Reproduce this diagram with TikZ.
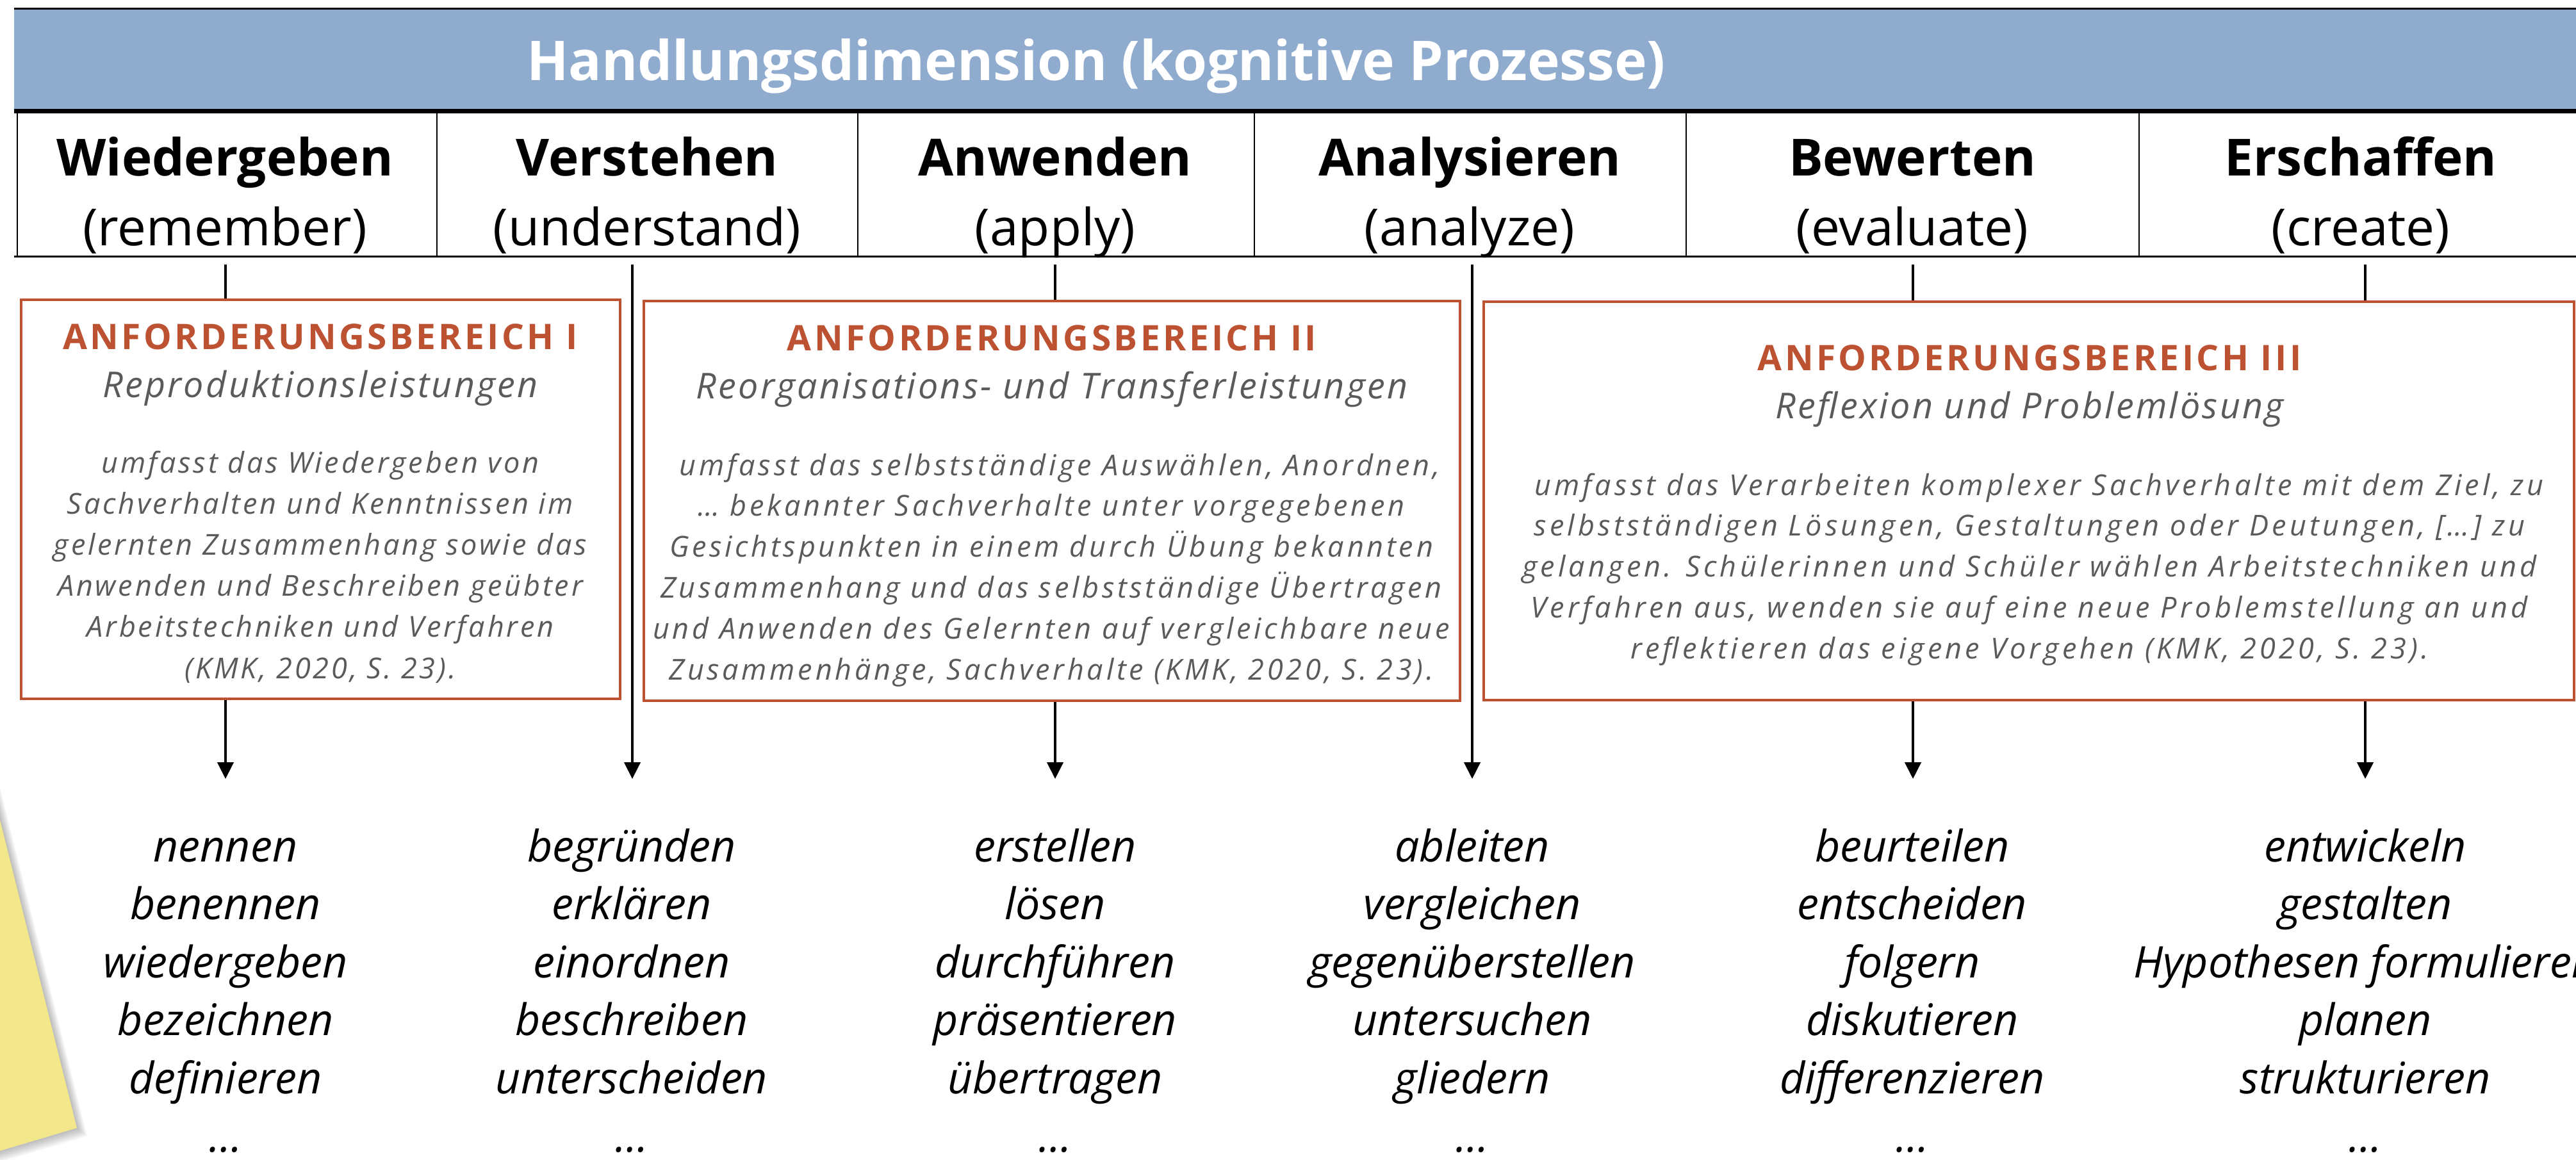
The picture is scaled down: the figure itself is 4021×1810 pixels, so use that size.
\documentclass[tikz,border=0pt]{standalone}
\usepackage{fontspec}
\setmainfont{Open Sans}
\newfontfamily\titlespaced[LetterSpace=8]{Open Sans}
\newfontfamily\subspaced[LetterSpace=6]{Open Sans}
\newfontfamily\bodyspacedA[LetterSpace=8.5]{Open Sans}
\newfontfamily\bodyspacedB[LetterSpace=10.5]{Open Sans}
\newfontfamily\bodyspacedC[LetterSpace=11.5]{Open Sans}
\usetikzlibrary{arrows.meta}
\definecolor{hblue}{RGB}{143,172,207}
\definecolor{aborange}{RGB}{189,82,50}
\definecolor{abgray}{RGB}{90,90,90}
\definecolor{notey}{RGB}{243,231,139}
\begin{document}
\begin{tikzpicture}[x=0.25pt,y=-0.25pt,
  headname/.style={anchor=base,inner sep=0pt,font=\fontsize{20}{24}\selectfont\bfseries},
  headgloss/.style={anchor=base,inner sep=0pt,font=\fontsize{20}{24}\selectfont},
  abtitle/.style={anchor=base,inner sep=0pt,text=aborange,font=\titlespaced\bfseries\fontsize{13.75}{16}\selectfont},
  absub/.style={anchor=base,inner sep=0pt,text=abgray,font=\subspaced\itshape\fontsize{13.9}{16}\selectfont},
  abbody/.style={anchor=base,inner sep=0pt,text=abgray},
  bodyA/.style={abbody,font=\bodyspacedA\itshape\fontsize{11.25}{14}\selectfont},
  bodyB/.style={abbody,font=\bodyspacedB\itshape\fontsize{11.25}{14}\selectfont},
  bodyC/.style={abbody,font=\bodyspacedC\itshape\fontsize{11.25}{14}\selectfont},
  verb/.style={anchor=base,inner sep=0pt,font=\itshape\fontsize{17}{20}\selectfont},
  abox/.style={draw=aborange,line width=0.9pt,fill=white,inner sep=0pt},
  conn/.style={line width=1.1pt},
  arr/.style={conn,-{Triangle[length=6.5pt,width=6.25pt]}},
  sep/.style={line width=0.5pt},
]
\useasboundingbox (0,0) rectangle (4021,1810);
\clip (0,0) rectangle (4021,1810);
% sticky note with soft shadow
\foreach \k in {1,...,8}
  \fill[black,opacity=0.035,shift={(\k*2,\k*1.6)}] (-55,1060) -- (120,1761) -- (-200,1856) -- (-300,1060) -- cycle;
\fill[notey] (-55,1060) -- (120,1761) -- (-200,1856) -- (-300,1060) -- cycle;
% header band
\fill[hblue] (22,14) rectangle (4030,171);
\draw[line width=0.75pt] (22,13) -- (4030,13);
\draw[line width=1.75pt] (22,173) -- (4030,173);
\draw[line width=0.75pt] (22,400) -- (4030,400);
\foreach \sx in {27,682,1339,1958,2632,3339}
  \draw[sep] (\sx,176) -- (\sx,400);
\node[anchor=base,inner sep=0pt,text=white,font=\fontsize{21.4}{25}\selectfont\bfseries] (title) at (1711,125) {Handlungsdimension (kognitive Prozesse)};
\foreach \n/\g/\cx [count=\i] in {Wiedergeben/remember/351,Verstehen/understand/1010,Anwenden/apply/1647,Analysieren/analyze/2294,Bewerten/evaluate/2985,Erschaffen/create/3685}{
  \node[headname] (hn\i) at (\cx,274) {\n};
  \node[headgloss] (hg\i) at (\cx,383) {(\g)};
}
% boxes
\node[abox,minimum width=233.75pt,minimum height=155.75pt] (boxI) at (500.5,779.5) {};
\node[abox,minimum width=318.5pt,minimum height=156pt] (boxII) at (1642,782) {};
\node[abox,minimum width=425.5pt,minimum height=155.5pt] (boxIII) at (3167,782) {};
% box I text
\node[abtitle] (tI) at (500,545) {ANFORDERUNGSBEREICH I};
\node[absub] (sI) at (500,620) {Reproduktionsleistungen};
\foreach \t [count=\j] in {umfasst das Wiedergeben von,Sachverhalten und Kenntnissen im,gelernten Zusammenhang sowie das,Anwenden und Beschreiben geübter,Arbeitstechniken und Verfahren,{(KMK, 2020, S. 23).}}
  \node[bodyA] (bI\j) at (500,{738+(\j-1)*64.2}) {\t};
% box II text
\node[abtitle] (tII) at (1642,547) {ANFORDERUNGSBEREICH II};
\node[absub] (sII) at (1642,622) {Reorganisations- und Transferleistungen};
\node[bodyB] (bII1) at (1654,742) {umfasst das selbstständige Auswählen, Anordnen,};
\foreach \t [count=\j from 2] in {… bekannter Sachverhalte unter vorgegebenen,Gesichtspunkten in einem durch Übung bekannten,Zusammenhang und das selbstständige Übertragen,und Anwenden des Gelernten auf vergleichbare neue,{Zusammenhänge, Sachverhalte (KMK, 2020, S. 23).}}
  \node[bodyB] (bII\j) at (1641,{742+(\j-1)*63.8}) {\t};
% box III text
\node[abtitle] (tIII) at (3168,578) {ANFORDERUNGSBEREICH III};
\node[absub] (sIII) at (3168,653) {Reflexion und Problemlösung};
\node[bodyC] (bIII1) at (3183,773) {umfasst das Verarbeiten komplexer Sachverhalte mit dem Ziel, zu};
\foreach \t [count=\j from 2] in {{selbstständigen Lösungen, Gestaltungen oder Deutungen, […] zu},gelangen. Schülerinnen und Schüler wählen Arbeitstechniken und,{Verfahren aus, wenden sie auf eine neue Problemstellung an und},{reflektieren das eigene Vorgehen (KMK, 2020, S. 23).}}
  \node[bodyC] (bIII\j) at (3168,{773+(\j-1)*63.8}) {\t};
% connectors
\coordinate (c1) at (352,413);
\coordinate (c2) at (987,413);
\coordinate (c3) at (1647,413);
\coordinate (c4) at (2298,413);
\coordinate (c5) at (2986,413);
\coordinate (c6) at (3692,413);
\coordinate (a1) at (352,1216);
\coordinate (a2) at (987,1216);
\coordinate (a3) at (1647,1216);
\coordinate (a4) at (2298,1216);
\coordinate (a5) at (2986,1216);
\coordinate (a6) at (3692,1216);
\draw[conn] (c1) -- (c1 |- boxI.north);
\draw[conn] (c3) -- (c3 |- boxII.north);
\draw[conn] (c5) -- (c5 |- boxIII.north);
\draw[conn] (c6) -- (c6 |- boxIII.north);
\draw[arr] (c2) -- (a2);
\draw[arr] (c4) -- (a4);
\draw[arr] (a1 |- boxI.south) -- (a1);
\draw[arr] (a3 |- boxII.south) -- (a3);
\draw[arr] (a5 |- boxIII.south) -- (a5);
\draw[arr] (a6 |- boxIII.south) -- (a6);
% verb lists
\foreach \w [count=\j] in {nennen,benennen,wiedergeben,bezeichnen,definieren,…}
  \node[verb] (v1-\j) at (352,{1345+(\j-1)*90.6}) {\w};
\foreach \w [count=\j] in {begründen,erklären,einordnen,beschreiben,unterscheiden,…}
  \node[verb] (v2-\j) at (986,{1345+(\j-1)*90.6}) {\w};
\foreach \w [count=\j] in {erstellen,lösen,durchführen,präsentieren,übertragen,…}
  \node[verb] (v3-\j) at (1647,{1345+(\j-1)*90.6}) {\w};
\foreach \w [count=\j] in {ableiten,vergleichen,gegenüberstellen,untersuchen,gliedern,…}
  \node[verb] (v4-\j) at (2298,{1345+(\j-1)*90.6}) {\w};
\foreach \w [count=\j] in {beurteilen,entscheiden,folgern,diskutieren,differenzieren,…}
  \node[verb] (v5-\j) at (2985,{1345+(\j-1)*90.6}) {\w};
\foreach \w [count=\j] in {entwickeln,gestalten,Hypothesen formulieren,planen,strukturieren,…}
  \node[verb] (v6-\j) at (3692,{1345+(\j-1)*90.6}) {\w};
\end{tikzpicture}
\end{document}
